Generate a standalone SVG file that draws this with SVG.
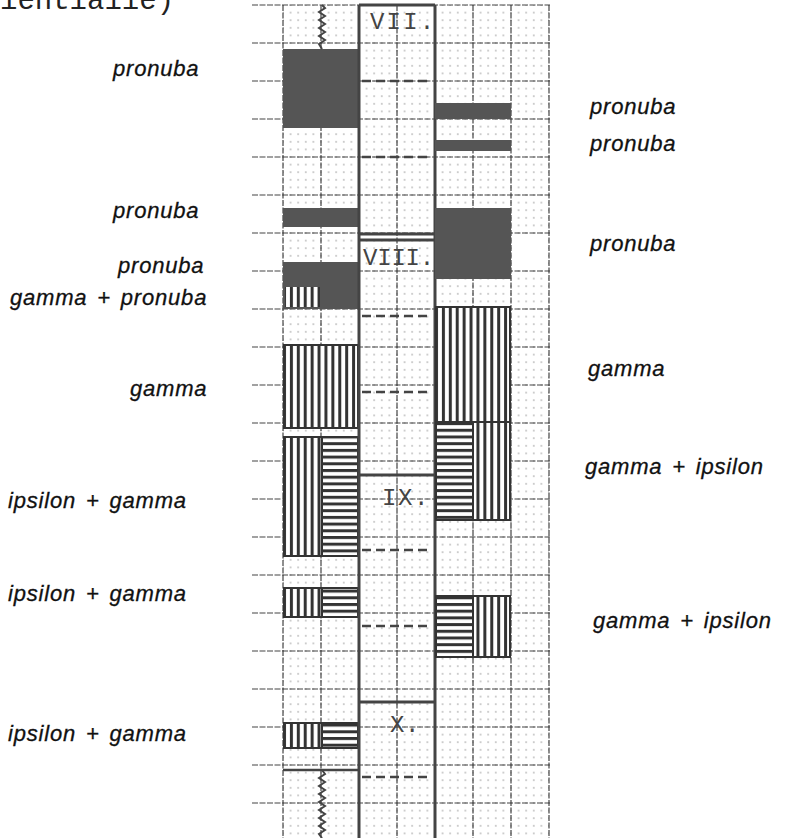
<svg xmlns="http://www.w3.org/2000/svg" width="786" height="838" viewBox="0 0 786 838">
<defs>
<style>
.lbl{font-family:"Liberation Sans",Arial,sans-serif;font-style:italic;font-size:22px;letter-spacing:0.8px;word-spacing:3px;fill:#111;stroke:#111;stroke-width:0.3}
.rom{font-family:"Liberation Mono","Courier New",monospace;font-size:24px;fill:#444}
.top{font-family:"Liberation Mono","Courier New",monospace;font-size:29px;fill:#222}
.major{stroke:#444;stroke-width:1.2;stroke-dasharray:6 1.5;fill:none}
.thick{stroke:#444;stroke-width:3;fill:none}
.dash{stroke:#444;stroke-width:2.5;stroke-dasharray:9 5;fill:none}
.dark{fill:#555}
.vs{fill:url(#vs);stroke:#333;stroke-width:2}
.hs{fill:url(#hs);stroke:#333;stroke-width:2}
.zig{stroke:#444;stroke-width:2;fill:none}
</style>
<pattern id="dots" patternUnits="userSpaceOnUse" x="283" y="5" width="7.6" height="7.6">
<circle cx="0" cy="0" r="0.75" fill="#888"/>
<circle cx="7.6" cy="0" r="0.75" fill="#888"/>
<circle cx="0" cy="7.6" r="0.75" fill="#888"/>
<circle cx="7.6" cy="7.6" r="0.75" fill="#888"/>
</pattern>
<pattern id="vs" patternUnits="userSpaceOnUse" x="283" y="0" width="6.909" height="10">
<rect width="6.909" height="10" fill="#fff"/>
<rect x="0" y="0" width="3" height="10" fill="#333"/>
</pattern>
<pattern id="hs" patternUnits="userSpaceOnUse" x="0" y="0" width="10" height="6.7">
<rect width="10" height="6.7" fill="#fff"/>
<rect x="0" y="0" width="10" height="3" fill="#333"/>
</pattern>
</defs>
<rect width="786" height="838" fill="#fff"/>

<g id="grid">
<rect x="283" y="5" width="266" height="833" fill="url(#dots)"/>
<rect x="512" y="235" width="36" height="35" fill="#fff"/>
<g class="major">
<line x1="252" y1="5" x2="550" y2="5"/>
<line x1="252" y1="43" x2="550" y2="43"/>
<line x1="252" y1="81" x2="550" y2="81"/>
<line x1="252" y1="119" x2="550" y2="119"/>
<line x1="252" y1="157" x2="550" y2="157"/>
<line x1="252" y1="195" x2="550" y2="195"/>
<line x1="252" y1="233" x2="550" y2="233"/>
<line x1="252" y1="271" x2="550" y2="271"/>
<line x1="252" y1="309" x2="550" y2="309"/>
<line x1="252" y1="347" x2="550" y2="347"/>
<line x1="252" y1="385" x2="550" y2="385"/>
<line x1="252" y1="423" x2="550" y2="423"/>
<line x1="252" y1="461" x2="550" y2="461"/>
<line x1="252" y1="499" x2="550" y2="499"/>
<line x1="252" y1="537" x2="550" y2="537"/>
<line x1="252" y1="575" x2="550" y2="575"/>
<line x1="252" y1="613" x2="550" y2="613"/>
<line x1="252" y1="651" x2="550" y2="651"/>
<line x1="252" y1="689" x2="550" y2="689"/>
<line x1="252" y1="727" x2="550" y2="727"/>
<line x1="252" y1="765" x2="550" y2="765"/>
<line x1="252" y1="803" x2="550" y2="803"/>
<line x1="283" y1="5" x2="283" y2="838"/>
<line x1="321" y1="5" x2="321" y2="838"/>
<line x1="397" y1="5" x2="397" y2="838"/>
<line x1="473" y1="5" x2="473" y2="838"/>
<line x1="511" y1="5" x2="511" y2="838"/>
<line x1="549" y1="5" x2="549" y2="838"/>
</g>
</g>

<g id="top-text">
<text class="top" x="0" y="9">ientiaiie)</text>
</g>

<g id="column-left">
<rect class="dark" x="283" y="49" width="76" height="79"/>
<rect class="dark" x="283" y="208" width="76" height="19"/>
<rect class="dark" x="283" y="262" width="76" height="47"/>
<rect x="285" y="287" width="35" height="20" fill="url(#vs)"/>
<rect class="vs" x="284" y="345" width="74" height="83"/>
<rect class="vs" x="284" y="437" width="38" height="119"/>
<rect class="hs" x="322" y="437" width="36" height="119"/>
<rect class="vs" x="284" y="588" width="38" height="29"/>
<rect class="hs" x="322" y="588" width="36" height="29"/>
<rect class="vs" x="284" y="723" width="38" height="25"/>
<rect class="hs" x="322" y="723" width="36" height="25"/>
<line x1="283" y1="770" x2="359" y2="770" stroke="#444" stroke-width="2.5"/>
<polyline class="zig" points="322,5 325,8 319,12 325,16 319,20 325,24 319,28 325,32 319,36 325,40 319,44 322,49"/>
<polyline class="zig" points="322,770 325,774 319,778 325,782 319,786 325,790 319,794 325,798 319,802 325,806 319,810 325,814 319,818 325,822 319,826 325,830 319,834 322,838"/>
</g>

<g id="column-middle">
<line class="thick" x1="359" y1="5" x2="359" y2="838"/>
<line class="thick" x1="435" y1="5" x2="435" y2="838"/>
<line class="thick" x1="359" y1="5" x2="435" y2="5"/>
<line class="thick" x1="359" y1="234" x2="435" y2="234"/>
<line class="thick" x1="359" y1="240" x2="435" y2="240"/>
<line class="thick" x1="359" y1="475" x2="435" y2="475"/>
<line class="thick" x1="359" y1="702" x2="435" y2="702"/>
<line class="dash" x1="362" y1="81" x2="432" y2="81"/>
<line class="dash" x1="362" y1="157" x2="432" y2="157"/>
<line class="dash" x1="362" y1="316" x2="432" y2="316"/>
<line class="dash" x1="362" y1="392" x2="432" y2="392"/>
<line class="dash" x1="362" y1="550" x2="432" y2="550"/>
<line class="dash" x1="362" y1="626" x2="432" y2="626"/>
<line class="dash" x1="362" y1="777" x2="432" y2="777"/>
<text class="rom" x="370" y="29" letter-spacing="2.2">VII.</text>
<text class="rom" x="363" y="265" letter-spacing="-0.2">VIII.</text>
<text class="rom" x="382" y="505" letter-spacing="1.6">IX.</text>
<text class="rom" x="390" y="732" letter-spacing="0.6">X.</text>
</g>

<g id="column-right">
<rect class="dark" x="435" y="103" width="76" height="16"/>
<rect class="dark" x="435" y="140" width="76" height="11"/>
<rect class="dark" x="435" y="208" width="76" height="71"/>
<rect class="vs" x="436" y="307" width="74" height="115"/>
<rect class="hs" x="436" y="422" width="37" height="98"/>
<rect class="vs" x="473" y="422" width="37" height="98"/>
<rect class="hs" x="436" y="596" width="37" height="61"/>
<rect class="vs" x="473" y="596" width="37" height="61"/>
</g>

<g id="labels-left">
<text class="lbl" x="113" y="76">pronuba</text>
<text class="lbl" x="113" y="218">pronuba</text>
<text class="lbl" x="118" y="273">pronuba</text>
<text class="lbl" x="10" y="305">gamma + pronuba</text>
<text class="lbl" x="130" y="396">gamma</text>
<text class="lbl" x="8" y="508">ipsilon + gamma</text>
<text class="lbl" x="8" y="601">ipsilon + gamma</text>
<text class="lbl" x="8" y="741">ipsilon + gamma</text>
</g>

<g id="labels-right">
<text class="lbl" x="590" y="114">pronuba</text>
<text class="lbl" x="590" y="151">pronuba</text>
<text class="lbl" x="590" y="251">pronuba</text>
<text class="lbl" x="588" y="376">gamma</text>
<text class="lbl" x="585" y="474">gamma + ipsilon</text>
<text class="lbl" x="593" y="628">gamma + ipsilon</text>
</g>
</svg>
